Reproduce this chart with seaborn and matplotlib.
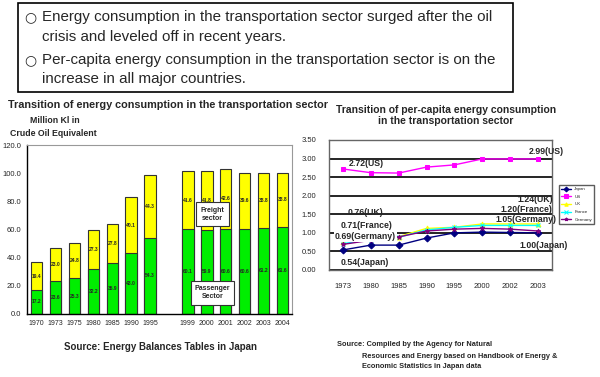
import numpy as np
import pandas as pd
import matplotlib
matplotlib.use("Agg")
import matplotlib.pyplot as plt
from matplotlib.patches import Rectangle
import seaborn as sns

# Venstre diagram: energiforbruk i transportsektoren (mill. kl oljeekvivalent)
years_left = ["1970", "1973", "1975", "1980", "1985", "1990", "1995",
              "1999", "2000", "2001", "2002", "2003", "2004"]
passenger = [17.2, 23.6, 25.3, 32.2, 35.9, 43.0, 54.3, 60.1, 59.9, 60.6, 60.6, 61.2, 61.6]
freight = [19.4, 23.0, 24.8, 27.3, 27.8, 40.1, 44.3, 41.6, 41.8, 42.6, 39.6, 38.8, 38.8]
order_left = years_left[:7] + [" "] + years_left[7:]

# Høyre diagram: energiforbruk per innbygger
years_right = ["1973", "1980", "1985", "1990", "1995", "2000", "2002", "2003"]
japan = [0.54, 0.67, 0.67, 0.86, 1.00, 1.02, 1.01, 1.00]
us = [2.72, 2.62, 2.61, 2.77, 2.83, 2.99, 2.99, 2.99]
uk = [0.76, 0.86, 0.90, 1.12, 1.15, 1.24, 1.24, 1.24]
france = [0.71, 0.82, 0.88, 1.08, 1.15, 1.20, 1.20, 1.20]
germany = [0.69, 0.80, 0.89, 1.05, 1.10, 1.12, 1.10, 1.05]

sns.set_style("white")
plt.rcParams['font.family'] = ['Liberation Sans', 'DejaVu Sans']

W, H = 600, 377
fig = plt.figure(figsize=(6, 3.77), dpi=100)


def fx(px):
    return px / W


def fy(py):
    return 1 - py / H


# Tekstboks øverst
fig.add_artist(Rectangle((fx(18), fy(92)), fx(495), 89 / H, transform=fig.transFigure,
                         fill=False, lw=1.2, edgecolor="black"))
lines = [("○", "Energy consumption in the transportation sector surged after the oil", 17),
         ("", "crisis and leveled off in recent years.", 37),
         ("○", "Per-capita energy consumption in the transportation sector is on the", 60),
         ("", "increase in all major countries.", 79)]
for bullet, txt, py in lines:
    if bullet:
        fig.text(fx(24), fy(py), bullet, fontsize=10, va="center", family="DejaVu Sans")
    fig.text(fx(42), fy(py), txt, fontsize=10.9, va="center")

# --- Venstre diagram ---
df = pd.DataFrame({"year": years_left, "passenger": passenger, "freight": freight})
df["total"] = df["passenger"] + df["freight"]

ax1 = fig.add_axes([fx(27), fy(314), fx(265), 169 / H])
sns.barplot(data=df, x="year", y="total", order=order_left, color="#FFFF00",
            edgecolor="#333333", linewidth=0.8, width=0.6, saturation=1,
            errorbar=None, ax=ax1)
sns.barplot(data=df, x="year", y="passenger", order=order_left, color="#00EE00",
            edgecolor="#333333", linewidth=0.8, width=0.6, saturation=1,
            errorbar=None, ax=ax1)

for i, row in df.iterrows():
    pos = order_left.index(row["year"])
    ax1.text(pos, row["passenger"] / 2, f"{row['passenger']:.1f}", ha="center",
             va="center", fontsize=3.6, fontweight="bold")
    ax1.text(pos, row["passenger"] + row["freight"] / 2, f"{row['freight']:.1f}",
             ha="center", va="center", fontsize=3.6, fontweight="bold")

ax1.set_ylim(0, 120)
ax1.set_xlim(-0.5, len(order_left) - 0.5)
ax1.set_yticks(np.arange(0, 121, 20))
ax1.set_yticklabels([f"{v:.1f}" for v in np.arange(0, 121, 20)], fontsize=5.5)
ax1.set_xticks(range(len(order_left)))
ax1.set_xticklabels(order_left, fontsize=5)
ax1.tick_params(axis="both", length=0, pad=4)
ax1.set_xlabel("")
ax1.set_ylabel("")
for s in ["top", "right"]:
    ax1.spines[s].set_color("#999999")
for s in ["left", "bottom"]:
    ax1.spines[s].set_color("black")
    ax1.spines[s].set_linewidth(1.0)

ax1.text(9.3, 71, "Freight\nsector", fontsize=5, fontweight="bold", ha="center",
         va="center", bbox=dict(boxstyle="square,pad=0.6", fc="white", ec="#333333", lw=0.8))
ax1.text(9.3, 15, "Passenger\nSector", fontsize=5, fontweight="bold", ha="center",
         va="center", bbox=dict(boxstyle="square,pad=0.6", fc="white", ec="#333333", lw=0.8))

fig.text(fx(8), fy(105), "Transition of energy consumption in the transportation sector",
         fontsize=7.8, fontweight="bold", va="center")
fig.text(fx(30), fy(121), "Million Kl in", fontsize=6.3, fontweight="bold", va="center")
fig.text(fx(10), fy(133), "Crude Oil Equivalent", fontsize=6.3, fontweight="bold", va="center")
fig.text(fx(160), fy(347), "Source: Energy Balances Tables in Japan", fontsize=7,
         fontweight="bold", ha="center", va="center")

# --- Høyre diagram ---
ax2 = fig.add_axes([fx(329), fy(270), fx(223), 130 / H])
series = [("Japan", japan, "#000080", "D"), ("US", us, "#FF00FF", "s"),
          ("UK", uk, "#FFFF00", "^"), ("France", france, "#00FFFF", "x"),
          ("Germany", germany, "#800080", "*")]
for name, vals, col, mk in series:
    sns.lineplot(x=years_right, y=vals, color=col, marker=mk, markersize=3.5,
                 markeredgecolor=col, linewidth=1.0, label=name, ax=ax2)

ax2.set_ylim(0, 3.5)
ax2.set_xlim(-0.5, len(years_right) - 0.5)
ax2.set_yticks(np.arange(0, 3.51, 0.5))
ax2.set_yticklabels([f"{v:.2f}" for v in np.arange(0, 3.51, 0.5)], fontsize=5.5)
ax2.tick_params(axis="y", length=0, pad=9)
ax2.tick_params(axis="x", length=0, pad=9, labelsize=5.5)
ax2.set_xticks(np.arange(0.5, len(years_right) - 0.5), minor=True)
ax2.tick_params(axis="x", which="minor", direction="in", length=3, width=0.8)
ax2.grid(axis="y", color="black", linewidth=1.2)
ax2.set_axisbelow(True)
for s in ax2.spines.values():
    s.set_color("#666666")
    s.set_linewidth(1.0)

notes = [("2.72(US)", 0.2, 2.88, "left"), ("2.99(US)", 7.3, 3.18, "center"),
         ("0.76(UK)", 0.18, 1.56, "left"), ("1.24(UK)", 7.53, 1.91, "right"),
         ("1.20(France)", 7.53, 1.64, "right"), ("1.05(Germany)", 7.67, 1.35, "right"),
         ("1.00(Japan)", 8.06, 0.65, "right"), ("0.71(France)", -0.1, 1.21, "left"),
         ("0.69(Germany)", -0.29, 0.89, "left"), ("0.54(Japan)", -0.1, 0.19, "left")]
for txt, xpos, ypos, ha in notes:
    box = None
    if txt == "0.69(Germany)":
        box = dict(boxstyle="square,pad=0.1", fc="white", ec="none")
    ax2.text(xpos, ypos, txt, fontsize=6.3, fontweight="bold", ha=ha, va="center",
             clip_on=False, bbox=box, zorder=5)

ax2.legend(loc="upper left", bbox_to_anchor=(fx(557), fy(183)),
           bbox_transform=fig.transFigure, fontsize=3.2, frameon=True, fancybox=False,
           edgecolor="#333333", handlelength=2.2, borderpad=0.4, labelspacing=0.8,
           markerscale=0.7)

fig.text(fx(446), fy(110), "Transition of per-capita energy consumption",
         fontsize=7.5, fontweight="bold", ha="center", va="center")
fig.text(fx(446), fy(121), "in the transportation sector",
         fontsize=7.5, fontweight="bold", ha="center", va="center")

fig.text(fx(337), fy(345), "Source: Compiled by the Agency for Natural", fontsize=5.3,
         fontweight="bold", va="center")
fig.text(fx(362), fy(356), "Resources and Energy based on Handbook of Energy &",
         fontsize=5.3, fontweight="bold", va="center")
fig.text(fx(362), fy(366), "Economic Statistics in Japan data", fontsize=5.3,
         fontweight="bold", va="center")

fig.savefig("out.png", dpi=100)
